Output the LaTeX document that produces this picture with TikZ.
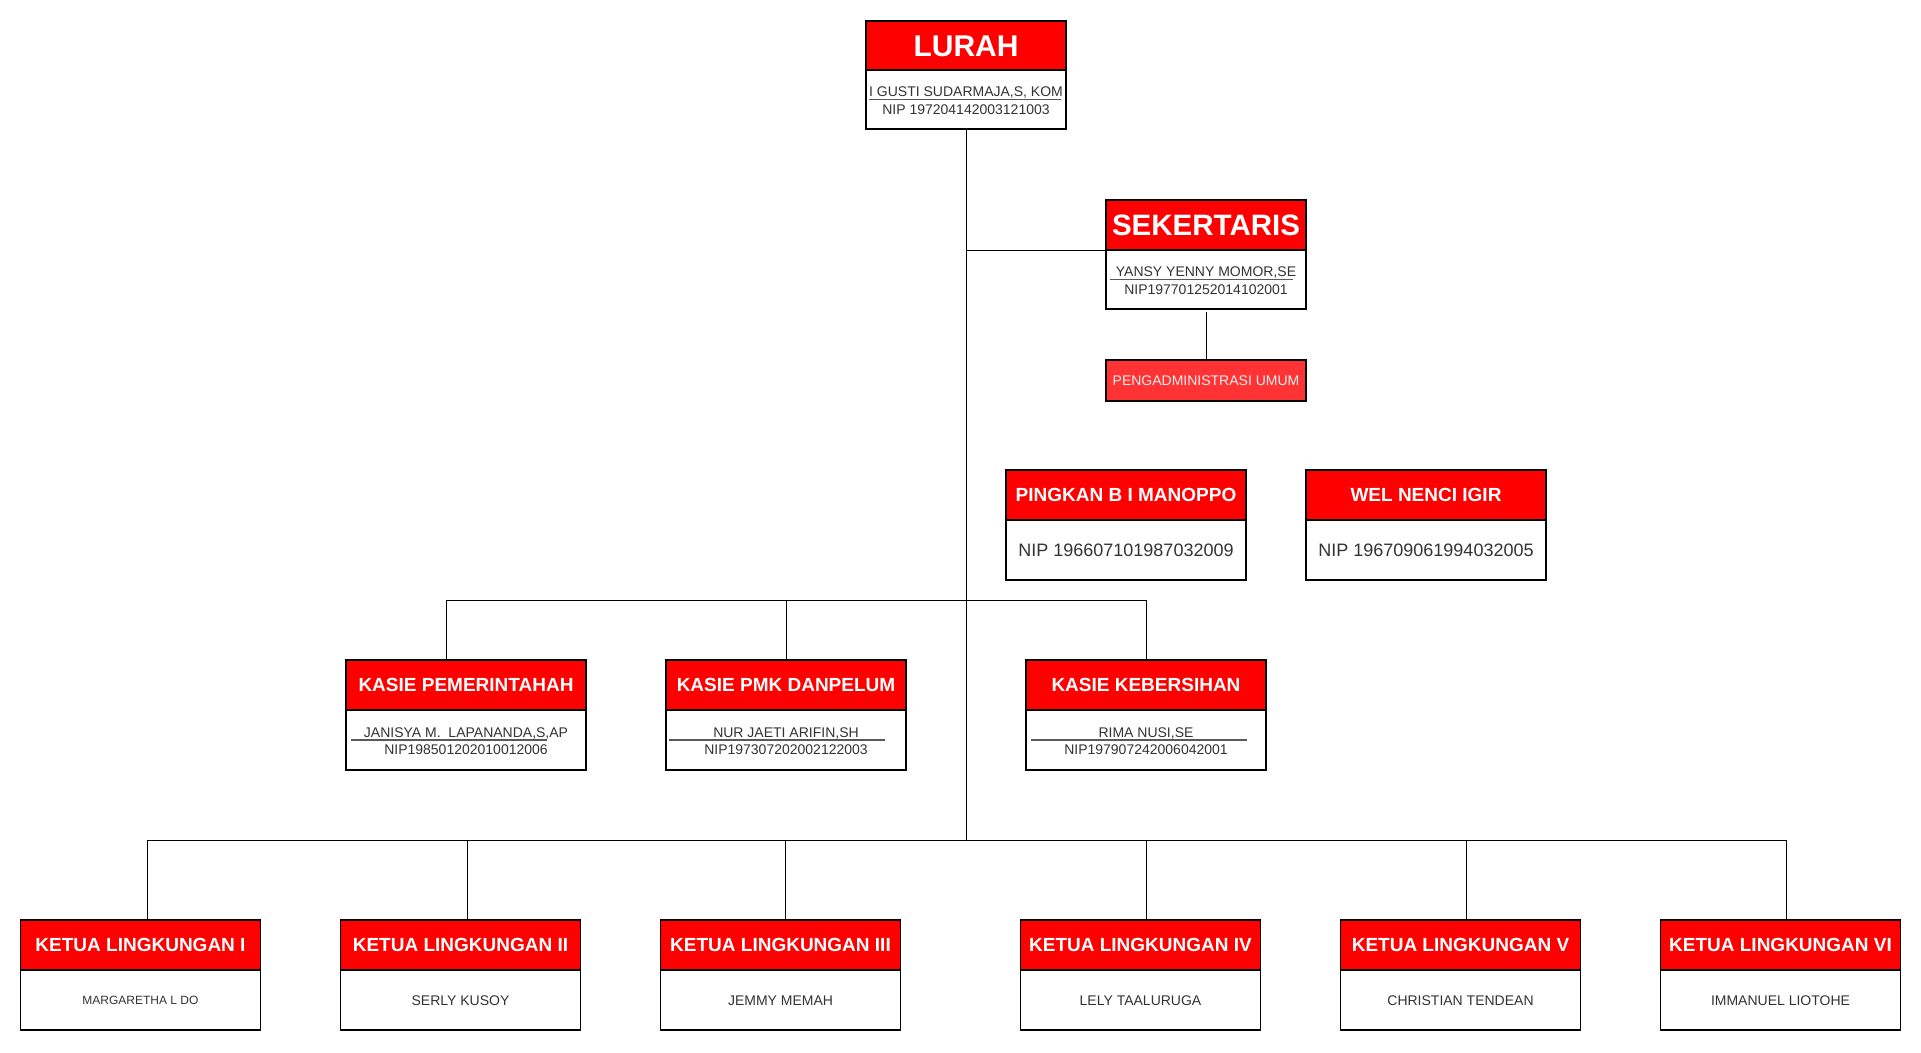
\documentclass[tikz,border=0pt]{standalone}
\usepackage{fontspec}
\setmainfont{Liberation Sans}
\usetikzlibrary{calc}
\definecolor{hdrred}{HTML}{FF0000}
\definecolor{pengred}{HTML}{FF3333}
\definecolor{bodytxt}{HTML}{333333}
\tikzset{
  box/.style={draw=black, line width=1.1pt, rectangle, inner sep=0pt, outer sep=0pt, anchor=north west},
  hdr/.style={box, fill=hdrred, text=white, minimum height=50pt, text height=13.6pt, text depth=0pt,
              font=\bfseries\fontsize{19}{22}\selectfont},
  bighdr/.style={hdr, text height=21.5pt, font=\bfseries\fontsize{30}{34}\selectfont},
  bodybox/.style={box, fill=white, text=bodytxt, minimum height=60pt, text height=10pt, text depth=0pt,
              font=\fontsize{14}{17}\selectfont},
  line/.style={anchor=base, inner sep=0pt, text=bodytxt, font=\fontsize{14}{17}\selectfont},
  uline/.style={draw=black!65, line width=1.4pt},
  conn/.style={draw=black, line width=1pt},
}
\begin{document}
\begin{tikzpicture}[x=1pt, y=-1pt]
\useasboundingbox (0,0) rectangle (1921,1052);

% ---------- LURAH ----------
\node[bighdr, minimum width=200pt, minimum height=49pt] (lurahH) at (866,21) {LURAH};
\node[bodybox, minimum width=200pt, minimum height=59pt] (lurahB) at (lurahH.south west) {};
\node[line] (lurahN) at (966,96.5) {I GUSTI SUDARMAJA,S, KOM};
\node[line] (lurahP) at (966,114) {NIP 197204142003121003};
\draw[uline] ($(lurahB.west)+(3,0)$) -- ($(lurahB.east)+(-5,0)$);

% ---------- SEKERTARIS ----------
\node[bighdr, minimum width=200pt, font=\bfseries\fontsize{29.5}{34}\selectfont] (sekH) at (1106,200) {SEKERTARIS};
\node[bodybox, minimum width=200pt, minimum height=59pt] (sekB) at (sekH.south west) {};
\node[line] (sekN) at (1206,276.5) {YANSY YENNY MOMOR,SE};
\node[line] (sekP) at (1206,294) {NIP197701252014102001};
\draw[uline] ($(sekB.west)+(4,0)$) -- ($(sekB.east)+(-13,0)$);

% ---------- PENGADMINISTRASI ----------
\node[box, fill=pengred, text=white!94!black, minimum width=200pt, minimum height=41pt,
      text height=10pt, text depth=0pt, font=\fontsize{14}{17}\selectfont] (peng) at (1106,360) {PENGADMINISTRASI UMUM};

% ---------- PINGKAN / WEL ----------
\node[hdr, minimum width=240pt] (pingH) at (1006,470) {PINGKAN B I MANOPPO};
\node[bodybox, minimum width=240pt, text height=12.9pt, font=\fontsize{18}{21}\selectfont] (pingB) at (pingH.south west) {NIP 196607101987032009};
\node[hdr, minimum width=240pt] (welH) at (1306,470) {WEL NENCI IGIR};
\node[bodybox, minimum width=240pt, text height=12.9pt, font=\fontsize{18}{21}\selectfont] (welB) at (welH.south west) {NIP 196709061994032005};

% ---------- KASIE ----------
\node[hdr, minimum width=240pt] (k1H) at (346,660) {KASIE PEMERINTAHAH};
\node[bodybox, minimum width=240pt] (k1B) at (k1H.south west) {};
\node[line] (k1N) at (466,737.5) {JANISYA M.\ \ LAPANANDA,S,AP};
\node[line] (k1P) at (466,754) {NIP198501202010012006};
\draw[uline] ($(k1B.west)+(5,0)$) -- ($(k1B.east)+(-39,0)$);

\node[hdr, minimum width=240pt] (k2H) at (666,660) {KASIE PMK DANPELUM};
\node[bodybox, minimum width=240pt] (k2B) at (k2H.south west) {};
\node[line] (k2N) at (786,737.5) {NUR JAETI ARIFIN,SH};
\node[line] (k2P) at (786,754) {NIP197307202002122003};
\draw[uline] ($(k2B.west)+(3,0)$) -- ($(k2B.east)+(-21,0)$);

\node[hdr, minimum width=240pt] (k3H) at (1026,660) {KASIE KEBERSIHAN};
\node[bodybox, minimum width=240pt] (k3B) at (k3H.south west) {};
\node[line] (k3N) at (1146,737.5) {RIMA NUSI,SE};
\node[line] (k3P) at (1146,754) {NIP197907242006042001};
\draw[uline] ($(k3B.west)+(5,0)$) -- ($(k3B.east)+(-19,0)$);

% ---------- KETUA LINGKUNGAN ----------
\node[hdr, minimum width=240pt] (l1H) at (20.5,920) {KETUA LINGKUNGAN I};
\node[bodybox, minimum width=240pt, text height=8.6pt, font=\fontsize{12}{14}\selectfont] (l1B) at (l1H.south west) {MARGARETHA L DO};
\node[hdr, minimum width=240pt] (l2H) at (340.5,920) {KETUA LINGKUNGAN II};
\node[bodybox, minimum width=240pt] (l2B) at (l2H.south west) {SERLY KUSOY};
\node[hdr, minimum width=240pt] (l3H) at (660.5,920) {KETUA LINGKUNGAN III};
\node[bodybox, minimum width=240pt] (l3B) at (l3H.south west) {JEMMY MEMAH};
\node[hdr, minimum width=240pt] (l4H) at (1020.5,920) {KETUA LINGKUNGAN IV};
\node[bodybox, minimum width=240pt] (l4B) at (l4H.south west) {LELY TAALURUGA};
\node[hdr, minimum width=240pt] (l5H) at (1340.5,920) {KETUA LINGKUNGAN V};
\node[bodybox, minimum width=240pt] (l5B) at (l5H.south west) {CHRISTIAN TENDEAN};
\node[hdr, minimum width=240pt] (l6H) at (1660.5,920) {KETUA LINGKUNGAN VI};
\node[bodybox, minimum width=240pt] (l6B) at (l6H.south west) {IMMANUEL LIOTOHE};

% ---------- connectors ----------
\coordinate (mainTop) at (966.5,129);
\coordinate (sekJ) at (966.5,250);
\coordinate (kasieJ) at (966.5,600);
\coordinate (mainEnd) at (966.5,840);
\draw[conn] (lurahB.south -| mainTop) -- (mainEnd);
\draw[conn] (sekJ) -- (sekJ -| sekB.west);
\draw[conn, shorten <=3pt] (sekB.south) -- (peng.north);

\coordinate (kd1) at (446,600);
\coordinate (kd2) at (786,600);
\coordinate (kd3) at (1146,600);
\draw[conn] (kd1) -- (kd3);
\draw[conn] (kd1) -- (kd1 |- k1H.north);
\draw[conn] (kd2) -- (kd2 |- k2H.north);
\draw[conn] (kd3) -- (kd3 |- k3H.north);

\coordinate (ld1) at (147,840);
\coordinate (ld2) at (467,840);
\coordinate (ld3) at (785,840);
\coordinate (ld4) at (1146,840);
\coordinate (ld5) at (1466,840);
\coordinate (ld6) at (1786,840);
\draw[conn] (ld1) -- (ld6);
\draw[conn] (ld1) -- (ld1 |- l1H.north);
\draw[conn] (ld2) -- (ld2 |- l2H.north);
\draw[conn] (ld3) -- (ld3 |- l3H.north);
\draw[conn] (ld4) -- (ld4 |- l4H.north);
\draw[conn] (ld5) -- (ld5 |- l5H.north);
\draw[conn] (ld6) -- (ld6 |- l6H.north);
\end{tikzpicture}
\end{document}
